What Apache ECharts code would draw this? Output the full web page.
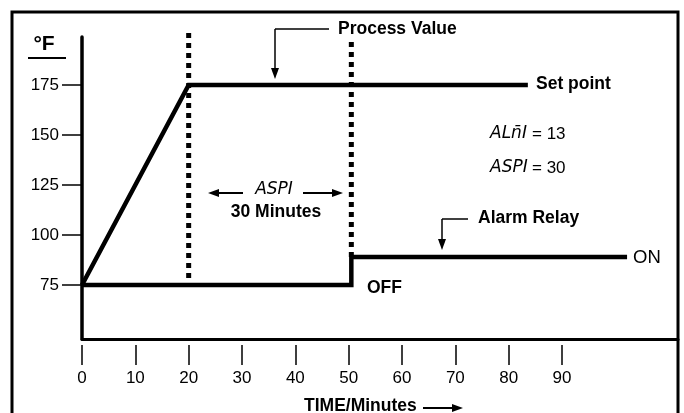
<!DOCTYPE html>
<html>
<head>
<meta charset="utf-8">
<script src="https://cdn.jsdelivr.net/npm/echarts@6/dist/echarts.min.js"></script>
<style>
  html, body { margin: 0; padding: 0; background: #fff; }
  #chart { width: 684px; height: 413px; }
</style>
</head>
<body>
<div id="chart"></div>
<script>
  // ticks
  var yTicks = [75, 100, 125, 150, 175];
  var xTicks = [0, 10, 20, 30, 40, 50, 60, 70, 80, 90];

  // process value (time, degF)
  var pvTime = [0, 20, 83.6];
  var pvTemp = [75, 175, 175];

  // alarm relay trace (time, level)
  var alarmTime = [0, 50.5, 50.5, 102.2];
  var alarmLevel = [75, 75, 89, 89];

  // ASPI window markers: time, top, bottom
  var aspiStart = [20, 201, 75];
  var aspiEnd = [50.5, 196.5, 89];

  var font = '"Liberation Sans", Arial, sans-serif';
  var segFont = '"DejaVu Sans", sans-serif';

  function pairs(xs, ys) {
    var out = [];
    for (var i = 0; i < xs.length; i++) out.push([xs[i], ys[i]]);
    return out;
  }

  var chart = echarts.init(document.getElementById('chart'));

  function arrowHead(x, y, dir) {
    // small filled triangle, tip at x,y
    var pts;
    if (dir === 'down') pts = [[x - 4, y - 11], [x + 4, y - 11], [x, y]];
    else if (dir === 'left') pts = [[x + 11, y - 4], [x + 11, y + 4], [x, y]];
    else pts = [[x - 11, y - 4], [x - 11, y + 4], [x, y]];
    return { type: 'polygon', shape: { points: pts }, style: { fill: '#000' }, z: 100 };
  }
  function seg(x1, y1, x2, y2, w) {
    return { type: 'line', shape: { x1: x1, y1: y1, x2: x2, y2: y2 }, style: { stroke: '#000', lineWidth: w || 1.5 }, z: 100 };
  }
  function txt(x, y, s, opt) {
    opt = opt || {};
    return {
      type: 'text', x: x, y: y, z: 100,
      style: {
        text: s, fill: '#000',
        font: (opt.style || 'normal') + ' ' + (opt.weight || 'normal') + ' ' + (opt.size || 17) + 'px ' + (opt.family || font),
        textAlign: opt.align || 'left', textVerticalAlign: 'middle'
      }
    };
  }

  chart.setOption({
    animation: false,
    backgroundColor: '#fff',
    grid: { left: 82, right: 6, top: 37, bottom: 74 },
    xAxis: [
      {
        type: 'value', min: 0, max: 111.75,
        axisLine: { show: true, onZero: false, lineStyle: { color: '#000', width: 3 } },
        axisTick: { show: false }, axisLabel: { show: false }, splitLine: { show: false }
      },
      {
        type: 'value', min: 0, max: 111.75, position: 'bottom', offset: 6,
        axisLine: { show: false },
        axisTick: { show: true, length: 20, customValues: xTicks, lineStyle: { color: '#000', width: 1.5 } },
        axisLabel: { show: true, customValues: xTicks, margin: 25, color: '#000', fontSize: 17, fontFamily: font },
        splitLine: { show: false }
      }
    ],
    yAxis: {
      type: 'value', min: 48, max: 199,
      axisLine: { show: true, lineStyle: { color: '#000', width: 3.5 } },
      axisTick: { show: true, length: 20, customValues: yTicks, lineStyle: { color: '#000', width: 1.5 } },
      axisLabel: { show: true, customValues: yTicks, margin: 23, color: '#000', fontSize: 17, fontFamily: font },
      splitLine: { show: false }
    },
    series: [
      {
        name: 'Process Value', type: 'line', data: pairs(pvTime, pvTemp),
        showSymbol: false, symbol: 'none', lineStyle: { color: '#000', width: 4.5, cap: 'butt', join: 'miter' }, z: 5
      },
      {
        name: 'Alarm Relay', type: 'line', data: pairs(alarmTime, alarmLevel),
        showSymbol: false, symbol: 'none', lineStyle: { color: '#000', width: 4.5, cap: 'butt', join: 'miter' }, z: 5
      },
      {
        name: 'start', type: 'line', clip: false, data: [[aspiStart[0], aspiStart[1]], [aspiStart[0], aspiStart[2]]],
        showSymbol: false, symbol: 'none', lineStyle: { color: '#000', width: 5, type: [5, 5], cap: 'butt' }, z: 4
      },
      {
        name: 'end', type: 'line', clip: false, data: [[aspiEnd[0], aspiEnd[1]], [aspiEnd[0], aspiEnd[2]]],
        showSymbol: false, symbol: 'none', lineStyle: { color: '#000', width: 5, type: [5, 5], cap: 'butt' }, z: 4
      }
    ],
    graphic: [
      // outer frame
      { type: 'rect', shape: { x: 12, y: 12, width: 666, height: 420 }, style: { fill: 'none', stroke: '#000', lineWidth: 3 }, z: 100 },
      // unit label
      txt(44, 44, '°F', { weight: 'bold', size: 21, align: 'center' }),
      seg(28, 58, 66, 58, 2),
      // process value callout
      txt(338, 29, 'Process Value', { weight: 'bold', size: 17.5 }),
      seg(329, 29, 275, 29), seg(275, 29, 275, 70), arrowHead(275, 79, 'down'),
      txt(536, 84, 'Set point', { weight: 'bold', size: 17.5 }),
      // alarm settings
      txt(490, 134, 'ALn\u0304I', { style: 'italic', family: segFont, size: 17 }),
      txt(532, 134, '= 13'),
      txt(490, 168, 'ASPI', { style: 'italic', family: segFont, size: 17 }),
      txt(532, 168, '= 30'),
      // ASPI window
      seg(243, 193, 215, 193, 2), arrowHead(208, 193, 'left'),
      txt(274, 190, 'ASPI', { style: 'italic', family: segFont, size: 17, align: 'center' }),
      seg(303, 193, 335, 193, 2), arrowHead(343, 193, 'right'),
      txt(276, 212, '30 Minutes', { weight: 'bold', size: 17.5, align: 'center' }),
      // alarm relay callout
      txt(478, 218, 'Alarm Relay', { weight: 'bold', size: 17.5 }),
      seg(468, 219, 442, 219), seg(442, 219, 442, 240), arrowHead(442, 250, 'down'),
      txt(633, 258, 'ON', { size: 18.5 }),
      txt(367, 288, 'OFF', { weight: 'bold', size: 17.5 }),
      // x title
      txt(304, 406, 'TIME/Minutes', { weight: 'bold', size: 17.5 }),
      seg(423, 408, 454, 408, 2), arrowHead(463, 408, 'right')
    ]
  });
</script>
</body>
</html>
